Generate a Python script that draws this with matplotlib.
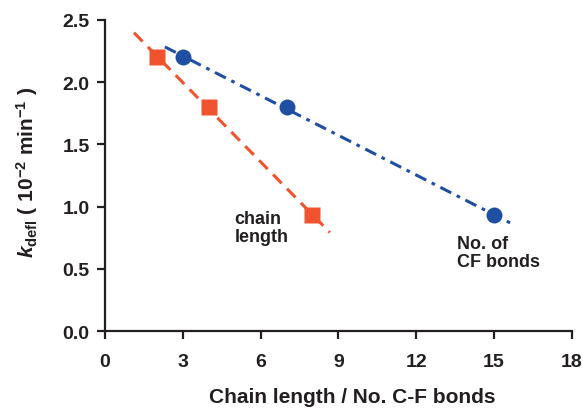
import numpy as np
import matplotlib
matplotlib.use("Agg")
import matplotlib.pyplot as plt

plt.rcParams['font.family'] = ['Liberation Sans', 'DejaVu Sans']
plt.rcParams['font.weight'] = 'bold'
plt.rcParams['mathtext.fontset'] = 'custom'
plt.rcParams['mathtext.rm'] = 'Liberation Sans:bold'
plt.rcParams['mathtext.it'] = 'Liberation Sans:italic:bold'
plt.rcParams['mathtext.bf'] = 'Liberation Sans:bold'

# chain length series
chain_x = [2, 4, 8]
chain_y = [2.2, 1.8, 0.93]
chain_fit_range = [1.12, 8.67]

# number of C-F bonds series
cf_x = [3, 7, 15]
cf_y = [2.2, 1.8, 0.93]
cf_fit_range = [2.31, 15.8]

x_ticks = [0, 3, 6, 9, 12, 15, 18]
y_ticks = [0.0, 0.5, 1.0, 1.5, 2.0, 2.5]

orange = '#f0532d'
blue = '#1f4fa3'
ink = '#231f20'

fig = plt.figure(figsize=(5.83, 4.10), dpi=100)
ax = fig.add_axes([0.180, 0.190, 0.801, 0.759])

# linear fits
p = np.polyfit(chain_x, chain_y, 1)
xf = np.array(chain_fit_range)
ax.plot(xf, np.polyval(p, xf), color=orange, lw=2.2, dashes=(4, 2.5), zorder=2)
p2 = np.polyfit(cf_x, cf_y, 1)
xf2 = np.array(cf_fit_range)
ax.plot(xf2, np.polyval(p2, xf2), color=blue, lw=2.2, dashes=(4, 2, 1.2, 2), zorder=2)

ax.plot(chain_x, chain_y, 's', color=orange, ms=11.5, mec='none', zorder=3)
ax.plot(cf_x, cf_y, 'o', color=blue, ms=11.5, mec='none', zorder=3)

ax.text(5.0, 0.97, 'chain\nlength', fontsize=13, fontweight='bold', color=ink,
        ha='left', va='top', linespacing=1.05)
ax.text(13.57, 0.77, 'No. of\nCF bonds', fontsize=13, fontweight='bold', color=ink,
        ha='left', va='top', linespacing=1.05)

ax.set_xlim(0, 18)
ax.set_ylim(0, 2.5)
ax.set_xticks(x_ticks)
ax.set_yticks(y_ticks)
ax.set_yticklabels(['%.1f' % v for v in y_ticks])

for s in ['top', 'right']:
    ax.spines[s].set_visible(False)
for s in ['left', 'bottom']:
    ax.spines[s].set_linewidth(1.6)
    ax.spines[s].set_color(ink)
ax.tick_params(width=1.6, length=6, labelsize=14, colors=ink)
ax.tick_params(axis='x', pad=10)
ax.tick_params(axis='y', pad=5)

ax.set_xlabel('Chain length / No. C-F bonds', fontsize=15, fontweight='bold', color=ink)
ax.xaxis.set_label_coords(0.529, -0.18)
ax.set_ylabel(r'$k_{\mathrm{defl}}$ ( 10$^{\mathrm{-2}}$ min$^{\mathrm{-1}}$ )', fontsize=15,
              fontweight='bold', color=ink)
ax.yaxis.set_label_coords(-0.14, 0.515)

fig.savefig('out.png', dpi=100)
